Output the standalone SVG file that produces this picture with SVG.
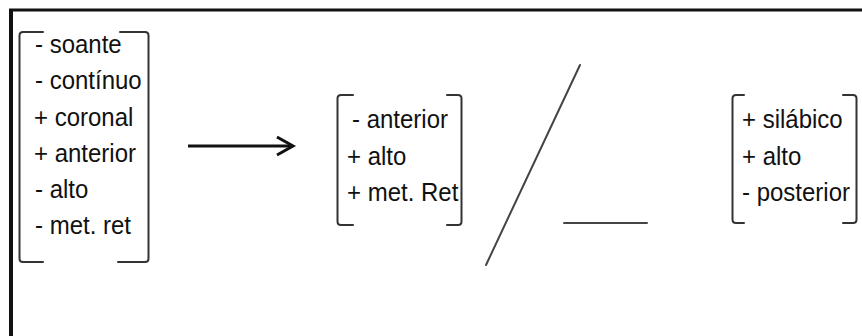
<svg xmlns="http://www.w3.org/2000/svg" width="862" height="336" viewBox="0 0 862 336">
  <style>
    .frame { stroke: #111; fill: none; }
    .brk { stroke: #333; stroke-width: 2; fill: none; stroke-linejoin: round; stroke-linecap: round; }
    .feat { font-family: "Liberation Sans", Arial, sans-serif; font-size: 24px; fill: #111; }
    .rule { stroke: #111; stroke-width: 3; fill: none; }
    .env { stroke: #444; stroke-width: 2; fill: none; stroke-linecap: round; }
  </style>
  <rect x="0" y="0" width="862" height="336" fill="#fff"/>

  <!-- page frame -->
  <line class="frame" x1="11" y1="9" x2="11" y2="336" stroke-width="4"/>
  <line class="frame" x1="9" y1="10" x2="862" y2="10" stroke-width="3"/>

  <!-- input segment -->
  <g id="input">
    <path class="brk" d="M43,32 H23 Q19.5,32 19.5,35.5 V258.5 Q19.5,262 23,262 H43"/>
    <path class="brk" d="M120,32 H145 Q148.5,32 148.5,35.5 V258.5 Q148.5,262 145,262 H118"/>
    <text class="feat" transform="translate(35,53) scale(1,1.1)">- soante</text>
    <text class="feat" transform="translate(35,89) scale(1,1.1)">- contínuo</text>
    <text class="feat" transform="translate(34,125.5) scale(1,1.1)">+ coronal</text>
    <text class="feat" transform="translate(34,162) scale(1,1.1)">+ anterior</text>
    <text class="feat" transform="translate(35,198) scale(1,1.1)">-  alto</text>
    <text class="feat" transform="translate(35,234) scale(1,1.1)">-  met. ret</text>
  </g>

  <!-- output segment -->
  <g id="output">
    <path class="brk" d="M353,95 H341 Q337.5,95 337.5,98.5 V221.5 Q337.5,225 341,225 H353"/>
    <path class="brk" d="M447,95 H458 Q461.5,95 461.5,98.5 V221.5 Q461.5,225 458,225 H447"/>
    <text class="feat" transform="translate(352,127.5) scale(1,1.1)">- anterior</text>
    <text class="feat" transform="translate(347,164.5) scale(1,1.1)">+ alto</text>
    <text class="feat" transform="translate(347,200.5) scale(1,1.1)">+ met. Ret</text>
  </g>

  <!-- conditioning environment -->
  <g id="context">
    <path class="brk" d="M744,95 H736 Q732.5,95 732.5,98.5 V219.5 Q732.5,223 736,223 H744"/>
    <text class="feat" transform="translate(742,127.5) scale(1,1.1)">+ silábico</text>
    <text class="feat" transform="translate(742,164.5) scale(1,1.1)">+ alto</text>
    <text class="feat" transform="translate(742,200.5) scale(1,1.1)">- posterior</text>
    <path class="brk" d="M843,95 H853 Q856.5,95 856.5,98.5 V219.5 Q856.5,223 853,223 H843"/>
  </g>

  <!-- rule arrow, environment slash and focus slot -->
  <g id="connectors">
    <line class="rule" x1="188" y1="146" x2="292" y2="146"/>
    <polyline class="rule" points="277,137 293,146 277,155" stroke-linejoin="miter"/>
    <line class="env" x1="580" y1="65" x2="486" y2="265"/>
    <line class="env" x1="564" y1="223" x2="647" y2="223" stroke-width="2.5"/>
  </g>
</svg>
